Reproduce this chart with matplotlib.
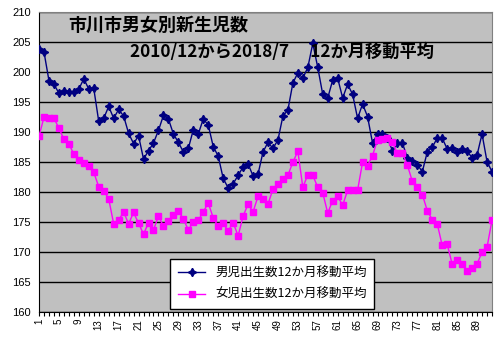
import matplotlib
matplotlib.use("Agg")
import matplotlib.pyplot as plt
import numpy as np

plt.rcParams['font.family'] = ['Liberation Sans', 'Noto Sans CJK JP', 'DejaVu Sans']

# 12か月移動平均 2010/12 - 2018/7 (92 months)
male = [203.8, 203.4, 198.6, 198.0, 196.5, 196.9, 196.7, 196.7, 197.2, 198.9,
        197.2, 197.3, 191.8, 192.3, 194.3, 192.3, 193.8, 192.7, 189.8, 188.1,
        189.4, 185.5, 186.9, 188.2, 190.3, 192.8, 192.2, 189.7, 188.3, 186.7,
        187.3, 190.4, 189.7, 192.2, 191.2, 187.6, 186.0, 182.3, 180.7, 181.4,
        182.8, 184.2, 184.7, 182.7, 183.0, 186.7, 188.3, 187.3, 188.7, 192.7,
        193.7, 198.2, 199.9, 199.0, 200.8, 204.8, 200.8, 196.3, 195.7, 198.7,
        199.0, 195.7, 198.0, 196.3, 192.3, 194.7, 192.6, 188.2, 189.7, 189.7,
        189.0, 186.9, 188.2, 188.2, 185.7, 185.2, 184.6, 183.4, 186.7, 187.5,
        189.0, 189.0, 187.2, 187.3, 186.7, 187.2, 186.9, 185.7, 186.2, 189.7,
        185.1, 183.4]
female = [189.3, 192.5, 192.3, 192.3, 190.7, 188.8, 188.1, 186.3, 185.4, 184.8,
          184.3, 183.3, 180.9, 180.2, 178.9, 174.7, 175.3, 176.7, 174.7, 176.6,
          174.8, 173.0, 174.9, 173.7, 176.0, 174.3, 175.2, 176.1, 176.9, 175.5,
          173.7, 175.0, 175.3, 176.7, 178.2, 175.7, 174.3, 174.8, 173.5, 174.9,
          172.7, 176.0, 178.0, 176.7, 179.3, 178.8, 178.0, 180.5, 181.3, 182.2,
          182.8, 185.0, 186.8, 180.8, 182.9, 182.8, 180.8, 179.9, 176.5, 178.6,
          179.3, 177.8, 180.3, 180.4, 180.3, 185.0, 184.4, 186.1, 188.7, 188.8,
          189.0, 188.3, 186.5, 186.5, 184.5, 181.8, 180.8, 179.6, 176.9, 175.4,
          174.7, 171.1, 171.3, 168.0, 168.6, 168.0, 166.9, 167.3, 168.0, 170.0,
          170.8, 175.3]
months = np.arange(1, len(male) + 1)

title1 = "市川市男女別新生児数"
title2 = "2010/12から2018/7\u3000 12か月移動平均"
label_m = "男児出生数12か月移動平均"
label_f = "女児出生数12か月移動平均"

W, H = 504, 340
fig = plt.figure(figsize=(W / 100, H / 100), dpi=100)
ax = fig.add_axes([39 / W, 1 - 312 / H, (492 - 39) / W, (312 - 12.3) / H])
ax.set_facecolor("#C0C0C0")

ax.plot(months, male, color="#000080", lw=1.0, marker=(4, 1, 0), ms=6,
        mec="#000080", mfc="#000080", label=label_m, zorder=3)
ax.plot(months, female, color="#FF00FF", lw=1.0, marker="s", ms=4,
        mec="#FF00FF", mfc="#FF00FF", label=label_f, zorder=3)

ax.set_xlim(1, len(male))
ax.set_ylim(160, 210)
ax.set_yticks(np.arange(160, 211, 5))
ax.yaxis.grid(True, color="black", lw=1.0)
ax.set_axisbelow(True)
ax.tick_params(axis="y", length=0, labelsize=8, pad=6)

ax.set_xticks(months)
ax.set_xticklabels([str(m) if (m - 1) % 4 == 0 else "" for m in months],
                   rotation=90, fontsize=7)
ax.tick_params(axis="x", length=3, width=0.8, direction="out", pad=2)

for side in ("top", "right"):
    ax.spines[side].set_color("#808080")
for side in ("left", "bottom"):
    ax.spines[side].set_color("black")

jp = ['Noto Sans CJK JP', 'DejaVu Sans']
fig.text(68 / W, 1 - 25 / H, title1, fontsize=13, fontweight="bold",
         family=jp, va="center", ha="left")
fig.text(130 / W, 1 - 51.5 / H, title2, fontsize=12.4, fontweight="bold",
         family=jp, va="center", ha="left")

leg = ax.legend(loc="lower left", bbox_to_anchor=(164 / W, 1 - 315 / H),
                bbox_transform=fig.transFigure, prop={"family": jp, "size": 9},
                fancybox=False, framealpha=1, edgecolor="black",
                handlelength=2.2, borderpad=0.6, labelspacing=0.7)
leg.get_frame().set_linewidth(1.0)

fig.savefig("out.png", dpi=100)
